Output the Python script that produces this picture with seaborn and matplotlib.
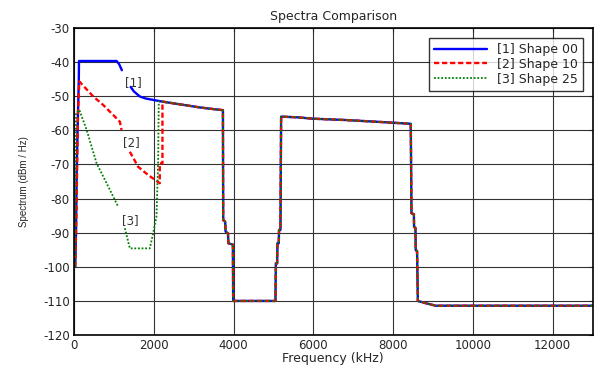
import numpy as np
import pandas as pd
import matplotlib
matplotlib.use('Agg')
import matplotlib.pyplot as plt
from matplotlib.lines import Line2D
import seaborn as sns

# shared part of all three spectra (kHz, dBm/Hz)
tail_f = [2217, 2600, 3150, 3500, 3733, 3740, 3790, 3800, 3860, 3870, 3983, 3990,
          5050, 5060, 5092, 5100, 5133, 5140, 5175, 5192, 5600, 5983, 6817, 7733,
          8442, 8460, 8520, 8525, 8560, 8567, 8600, 8620, 8800, 9067, 13000]
tail_db = [-51.6, -52.3, -53.3, -53.8, -54.1, -86.3, -86.8, -89.7, -90.2, -93.1, -93.5, -110,
           -110, -99.0, -99.0, -93.1, -93.1, -89.2, -89.2, -56.0, -56.2, -56.6, -57.0, -57.6,
           -58.1, -84.3, -84.6, -88.3, -88.6, -95.1, -95.4, -110, -110.6, -111.4, -111.4]

# [1] Shape 00  (NaN = gap where the label sits)
f1 = [30, 50, 70, 100, 120, 125, 1067, 1130, 1200, np.nan, 1420, 1500, 1650, 1800, 1983]
db1 = [-100, -90, -70, -55, -45, -39.7, -39.7, -40.6, -42.4, np.nan, -47.3, -48.6, -50.1, -50.7, -51.1]

# [2] Shape 10
f2 = [30, 60, 80, 100, 133, 483, 733, 1067, 1150, 1192, np.nan, 1400, 1608, 1858, 2150, 2150, 2217]
db2 = [-100, -85, -70, -55, -45.7, -50.1, -52.6, -56.5, -57.5, -59.9, np.nan, -66.3, -70.7, -73.1, -75.5, -69.7, -69.7]

# [3] Shape 25
f3 = [30, 40, 50, 133, 317, 567, 817, 1108, np.nan, 1275, 1400, 1900, 1983, 2067, 2108, 2125, 2217]
db3 = [-100, -80, -55, -54.0, -59.9, -69.7, -75.5, -82.4, np.nan, -88.7, -94.6, -94.6, -90.2, -85.3, -69.7, -51.6, -51.6]

labels = ['[1] Shape 00', '[2] Shape 10', '[3] Shape 25']
colors = ['#0000ff', '#ff0000', '#008000']

sns.set_style('white')
plt.rcParams['font.family'] = ['DejaVu Sans']
plt.rcParams['axes.unicode_minus'] = False

fig = plt.figure(figsize=(5.94, 3.67), dpi=100)
ax = fig.add_axes([0.1246, 0.087, 0.873, 0.837])

heads = [(f1, db1), (f2, db2), (f3, db3)]
styles = [dict(linestyle='-', linewidth=1.7),
          dict(linestyle=(0, (2.2, 1.2)), linewidth=1.7),
          dict(linestyle=(0, (1.0, 1.0)), linewidth=1.3)]

handles = []
for (f, d), lab, c, st in zip(heads, labels, colors, styles):
    f = np.array(list(f) + tail_f, dtype=float)
    d = np.array(list(d) + tail_db, dtype=float)
    seg = np.cumsum(np.isnan(f))
    df = pd.DataFrame({'freq': f, 'db': d, 'seg': seg}).dropna()
    for s, part in df.groupby('seg'):
        sns.lineplot(data=part, x='freq', y='db', ax=ax, sort=False, estimator=None,
                     color=c, legend=False, **st)
    handles.append(Line2D([], [], color=c, label=lab, **st))

ax.text(1500, -46.1, '[1]', ha='center', va='center', fontsize=8.5, color='#333333')
ax.text(1450, -63.7, '[2]', ha='center', va='center', fontsize=8.5, color='#333333')
ax.text(1400, -86.3, '[3]', ha='center', va='center', fontsize=8.5, color='#333333')

ax.set_xlim(0, 13000)
ax.set_ylim(-120, -30)
ax.set_xticks(np.arange(0, 13000, 2000))
ax.set_yticks(np.arange(-120, -29, 10))
ax.grid(True, color='#333333', linewidth=0.8)
ax.tick_params(direction='in', length=3, top=True, right=True, labelsize=8.5, pad=3)
for s in ax.spines.values():
    s.set_color('black')
    s.set_linewidth(1.2)

ax.set_title('Spectra Comparison', fontsize=9, pad=6)
ax.set_xlabel('Frequency (kHz)', fontsize=9, labelpad=0)
ax.set_ylabel('Spectrum (dBm / Hz)', fontsize=7, family=['Liberation Sans'], labelpad=10)

leg = ax.legend(handles=handles, loc='upper right', fontsize=9, frameon=True, fancybox=False,
                handlelength=4.2, borderaxespad=0.8, labelspacing=0.15, borderpad=0.4)
leg.get_frame().set_edgecolor('black')
leg.get_frame().set_linewidth(1.0)

fig.savefig('out.png', dpi=100)
